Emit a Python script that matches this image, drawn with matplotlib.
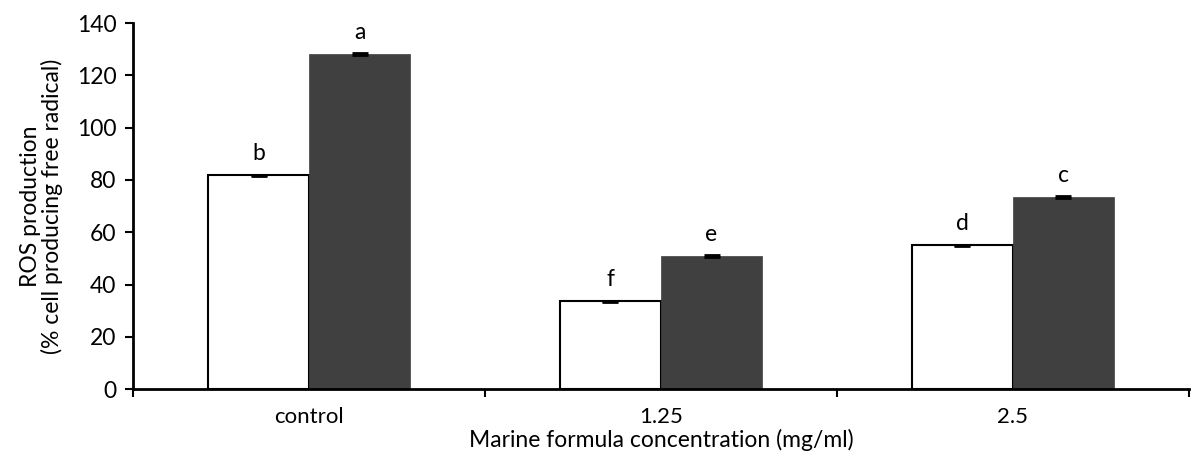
import matplotlib
matplotlib.use("Agg")
import matplotlib.pyplot as plt
import numpy as np

categories = ["control", "1.25", "2.5"]
series_white = [81.8, 33.5, 55.1]
series_dark = [128.1, 50.8, 73.3]
err_white = [0.2, 0.2, 0.2]
err_dark = [0.3, 0.4, 0.4]
letters_white = ["b", "f", "d"]
letters_dark = ["a", "e", "c"]
yticks = [0, 20, 40, 60, 80, 100, 120, 140]

plt.rcParams['font.family'] = ['Lato', 'DejaVu Sans']

fig = plt.figure(figsize=(11.91, 4.61), dpi=100)
ax = fig.add_axes([0.1117, 0.156, 0.8866, 0.794])

x = np.arange(len(categories))
w = 0.287
ax.bar(x - w/2, series_white, w, color="white", edgecolor="black", linewidth=1.5,
       yerr=err_white, error_kw=dict(ecolor="black", capsize=6, elinewidth=1.2, capthick=2))
ax.bar(x + w/2, series_dark, w, color="#404040", edgecolor="#404040", linewidth=0.5,
       yerr=err_dark, error_kw=dict(ecolor="black", capsize=6, elinewidth=1.2, capthick=2))

for xi, v, lab in zip(x - w/2, series_white, letters_white):
    ax.annotate(lab, (xi, v), xytext=(0, 8), textcoords="offset points",
                ha="center", va="bottom", fontsize=16.5)
for xi, v, lab in zip(x + w/2, series_dark, letters_dark):
    ax.annotate(lab, (xi, v), xytext=(0, 8), textcoords="offset points",
                ha="center", va="bottom", fontsize=16.5)

ax.set_xlim(-0.5, 2.5)
ax.set_ylim(0, 140)
ax.set_yticks(yticks)
ax.set_yticklabels([str(t) for t in yticks], fontsize=16.5)
ax.set_xticks(x)
ax.set_xticklabels(categories, fontsize=16)
ax.tick_params(axis="x", length=0, pad=13)
ax.set_xticks([-0.5, 0.5, 1.5, 2.5], minor=True)
ax.tick_params(axis="x", which="minor", length=6, width=1.5, direction="out")
ax.tick_params(axis="y", length=6, width=1.5, direction="out", pad=6)

for s in ["top", "right"]:
    ax.spines[s].set_visible(False)
for s in ["left", "bottom"]:
    ax.spines[s].set_linewidth(2)

ax.set_xlabel("Marine formula concentration (mg/ml)", fontsize=16.5, labelpad=1)
ax.set_ylabel("ROS production\n(% cell producing free radical)", fontsize=16.5, labelpad=10,
              linespacing=1.0)

fig.savefig("out.png", dpi=100)
